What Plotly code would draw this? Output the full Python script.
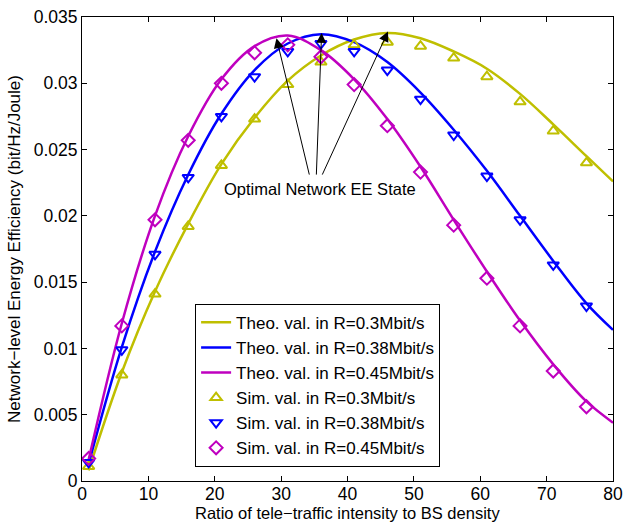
import plotly.graph_objects as go

# ---- data ----
sim_x = [1, 6, 11, 16, 21, 26, 31, 36, 41, 46, 51, 56, 61, 66, 71, 76]
sim_03 = [0.0011, 0.0080, 0.0141, 0.0192, 0.0238, 0.0273, 0.0299, 0.0316, 0.0329, 0.0331,
          0.0328, 0.0319, 0.0305, 0.0286, 0.0264, 0.0240]
sim_038 = [0.0014, 0.0099, 0.0171, 0.0229, 0.0275, 0.0305, 0.0324, 0.0330, 0.0324, 0.0310,
           0.0288, 0.0261, 0.0230, 0.0197, 0.0163, 0.0132]
sim_045 = [0.0017, 0.0117, 0.0197, 0.0257, 0.0300, 0.0323, 0.0329, 0.0320, 0.0299, 0.0268,
           0.0233, 0.0193, 0.0153, 0.0117, 0.0083, 0.0056]

theo_x = [1, 6, 11, 16, 21, 26, 31, 36, 41, 46, 51, 56, 61, 66, 71, 76, 80]
theo_03 = [0.0008, 0.0082, 0.0143, 0.0194, 0.0239, 0.0274, 0.0302, 0.0321, 0.0333, 0.0338,
           0.0334, 0.0324, 0.0311, 0.0292, 0.0269, 0.0245, 0.0226]
theo_038 = [0.0013, 0.0101, 0.0173, 0.0231, 0.0277, 0.0310, 0.0330, 0.0337, 0.0331, 0.0316,
            0.0293, 0.0265, 0.0234, 0.0200, 0.0166, 0.0134, 0.0114]
theo_045 = [0.0016, 0.0119, 0.0200, 0.0260, 0.0303, 0.0328, 0.0336, 0.0325, 0.0303, 0.0273,
            0.0237, 0.0197, 0.0158, 0.0121, 0.0088, 0.0060, 0.0044]

rates = ["0.3", "0.38", "0.45"]
x_ticks = [0, 10, 20, 30, 40, 50, 60, 70, 80]
y_ticks = [0, 0.005, 0.01, 0.015, 0.02, 0.025, 0.03, 0.035]
y_ticktext = ["0", "0.005", "0.01", "0.015", "0.02", "0.025", "0.03", "0.035"]

x_title = "Ratio of tele\u2212traffic intensity to BS density"
y_title = "Network\u2212level Energy Efficiency (bit/Hz/Joule)"

# optimal points (arrow heads) and arrow tails
opt_x = [29.3, 36.1, 46.1]
opt_y = [0.0334, 0.0338, 0.0339]
tail_x = [34.3, 35.3, 36.1]
tail_y = 0.0230
label_x, label_y = 35.8, 0.0220

colors = ["rgb(191,191,0)", "rgb(0,0,255)", "rgb(191,0,191)"]
symbols = ["triangle-up-open", "triangle-down-open", "diamond-open"]
FONT = "Liberation Sans, Arial, sans-serif"

fig = go.Figure()
for r, ys, c in zip(rates, [theo_03, theo_038, theo_045], colors):
    fig.add_trace(go.Scatter(x=theo_x, y=ys, mode="lines",
                             line=dict(color=c, width=2.5, shape="spline", smoothing=1.0),
                             name=f"Theo. val. in R={r}Mbit/s"))
for r, ys, c, s in zip(rates, [sim_03, sim_038, sim_045], colors, symbols):
    fig.add_trace(go.Scatter(x=sim_x, y=ys, mode="markers",
                             marker=dict(symbol=s, size=10, color=c,
                                         line=dict(color=c, width=2)),
                             name=f"Sim. val. in R={r}Mbit/s"))

for hx, hy, tx in zip(opt_x, opt_y, tail_x):
    fig.add_annotation(x=hx, y=hy, ax=tx, ay=tail_y, xref="x", yref="y",
                       axref="x", ayref="y", text="", showarrow=True,
                       arrowhead=2, arrowsize=2, arrowwidth=1, arrowcolor="black")
fig.add_annotation(x=label_x, y=label_y, xref="x", yref="y", text="Optimal Network EE State",
                   showarrow=False, font=dict(family=FONT, size=16.5, color="black"))

# x-axis title placed as paper annotation below tick labels
fig.add_annotation(x=0.5, y=-0.0895, xref="paper", yref="paper", text=x_title,
                   showarrow=False, xanchor="center", yanchor="bottom", borderpad=0,
                   font=dict(family=FONT, size=16.5, color="black"))

axis_common = dict(showline=True, linecolor="black", linewidth=1, mirror="allticks",
                   ticks="inside", ticklen=5, tickcolor="black", showgrid=False,
                   zeroline=False, automargin=False,
                   tickfont=dict(family=FONT, size=17.5, color="black"))

fig.update_layout(
    width=624, height=523,
    margin=dict(l=82, r=11, t=17, b=42),
    paper_bgcolor="white", plot_bgcolor="white",
    font=dict(family=FONT, size=17, color="black"),
    xaxis=dict(range=[0, 80], tickvals=x_ticks, ticklabelstandoff=-3, **axis_common),
    yaxis=dict(range=[0, 0.035], tickvals=y_ticks, ticktext=y_ticktext,
               title=dict(text=y_title, font=dict(family=FONT, size=17), standoff=8),
               **axis_common),
    showlegend=True,
    legend=dict(x=0.213, y=0.382, xanchor="left", yanchor="top",
                bgcolor="white", bordercolor="black", borderwidth=1,
                font=dict(family=FONT, size=17), tracegroupgap=0,
                itemwidth=30),
)

fig.write_html("out.html")
